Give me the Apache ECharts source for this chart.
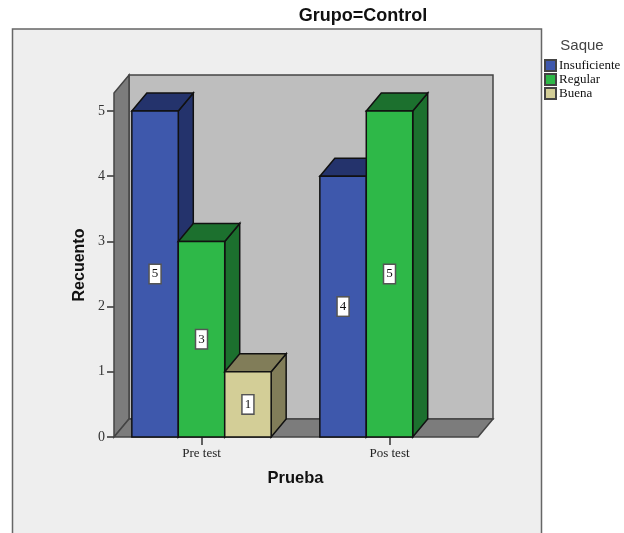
<!DOCTYPE html>
<html>
<head>
<meta charset="utf-8">
<style>html,body{margin:0;padding:0;background:#fff}#chart{width:624px;height:533px}</style>
<script src="https://cdn.jsdelivr.net/npm/echarts@6/dist/echarts.min.js"></script>
</head>
<body>
<div id="chart"></div>
<script>
const categories = ['Pre test', 'Pos test']
const insuficiente = [5, 4]
const regular = [3, 5]
const buena = [1, null]
const yTicks = [0, 1, 2, 3, 4, 5]

// look of the fake 3D box, in pixels
const DEPTH_X = 15
const DEPTH_Y = 18
const FLOOR_INSET = 6.5
const BAR_SHARE = 0.247
const FLOOR_SPAN = 364
const WALL_TOP = 5.276

const serif = '"Liberation Serif"'
const sans = '"Liberation Sans"'

const renderFrame = (params, api) => {
  const band = api.size([1, 0])[0]
  const origin = api.coord([0, 0])
  const top = api.coord([0, WALL_TOP])[1]
  const left = origin[0] - band / 2 + FLOOR_INSET
  const right = left + FLOOR_SPAN
  const bottom = origin[1]
  const stroke = { stroke: '#444444', lineWidth: 1.5 }
  return {
    type: 'group',
    children: [
      {
        type: 'rect',
        shape: { x: left + DEPTH_X, y: top - DEPTH_Y, width: FLOOR_SPAN, height: bottom - top },
        style: { fill: '#bebebe', ...stroke }
      },
      {
        type: 'polygon',
        shape: { points: [[left, bottom], [left + DEPTH_X, bottom - DEPTH_Y], [left + DEPTH_X, top - DEPTH_Y], [left, top]] },
        style: { fill: '#7c7c7c', ...stroke }
      },
      {
        type: 'polygon',
        shape: { points: [[left, bottom], [right, bottom], [right + DEPTH_X, bottom - DEPTH_Y], [left + DEPTH_X, bottom - DEPTH_Y]] },
        style: { fill: '#7c7c7c', ...stroke }
      }
    ]
  }
}

const makeBarRenderer = (slot, front, shade) => (params, api) => {
  const value = api.value(1)
  if (isNaN(value)) return null

  const band = api.size([1, 0])[0]
  const width = band * BAR_SHARE
  const base = api.coord([api.value(0), 0])
  const head = api.coord([api.value(0), value])
  const mid = api.coord([api.value(0), value / 2])
  const x0 = base[0] + (slot - 2.5) * width
  const x1 = x0 + width
  const outline = { stroke: '#111111', lineWidth: 1.5 }

  return {
    type: 'group',
    children: [
      {
        type: 'polygon',
        shape: { points: [[x1, base[1]], [x1 + DEPTH_X, base[1] - DEPTH_Y], [x1 + DEPTH_X, head[1] - DEPTH_Y], [x1, head[1]]] },
        style: { fill: shade, ...outline }
      },
      {
        type: 'polygon',
        shape: { points: [[x0, head[1]], [x0 + DEPTH_X, head[1] - DEPTH_Y], [x1 + DEPTH_X, head[1] - DEPTH_Y], [x1, head[1]]] },
        style: { fill: shade, ...outline }
      },
      {
        type: 'rect',
        shape: { x: x0, y: head[1], width, height: base[1] - head[1] },
        style: { fill: front, ...outline }
      },
      {
        type: 'text',
        x: (x0 + x1) / 2,
        y: mid[1],
        style: {
          text: String(value),
          font: `13px ${serif}`,
          fill: '#111111',
          align: 'center',
          verticalAlign: 'middle',
          backgroundColor: '#ffffff',
          borderColor: '#555555',
          borderWidth: 1.5,
          padding: [3, 2, 2, 2]
        }
      }
    ]
  }
}

const barSeries = (name, values, slot, front, shade) => ({
  type: 'custom',
  name,
  z: 2 + slot,
  data: values.map((v, i) => [i, v]),
  encode: { x: 0, y: 1 },
  itemStyle: { color: front, borderColor: '#444444', borderWidth: 1 },
  renderItem: makeBarRenderer(slot, front, shade)
})

const chart = echarts.init(document.getElementById('chart'))

chart.setOption({
  animation: false,
  backgroundColor: '#ffffff',
  title: [
    {
      text: 'Grupo=Control',
      left: 363,
      top: 7,
      padding: 0,
      textAlign: 'center',
      textStyle: { fontFamily: sans, fontSize: 18, fontWeight: 'bold', color: '#111111' }
    },
    {
      text: 'Saque',
      left: 582,
      top: 38,
      padding: 0,
      textAlign: 'center',
      textStyle: { fontFamily: sans, fontSize: 15, fontWeight: 'normal', color: '#444444' }
    }
  ],
  legend: {
    data: ['Insuficiente', 'Regular', 'Buena'],
    orient: 'vertical',
    left: 544,
    top: 59,
    padding: 0,
    itemWidth: 11,
    itemHeight: 11,
    itemGap: 1,
    icon: 'rect',
    textStyle: { fontFamily: serif, fontSize: 13, lineHeight: 11, color: '#111111', padding: [0, 0, 0, -2] }
  },
  graphic: [
    {
      type: 'rect',
      z: -10,
      shape: { x: 12.5, y: 29, width: 529, height: 520 },
      style: { fill: '#eeeeee', stroke: '#666666', lineWidth: 1.5 }
    }
  ],
  grid: { left: 107.5, top: 93, width: 376, height: 344 },
  xAxis: {
    type: 'category',
    data: categories,
    name: 'Prueba',
    nameLocation: 'middle',
    nameGap: 33,
    nameTextStyle: { fontFamily: sans, fontSize: 16.5, fontWeight: 'bold', color: '#111111' },
    axisLine: { show: false },
    axisTick: { show: true, alignWithLabel: true, length: 8, lineStyle: { color: '#333333', width: 1.5 } },
    axisLabel: { fontFamily: serif, fontSize: 13, color: '#222222', margin: 10 },
    splitLine: { show: false }
  },
  yAxis: {
    type: 'value',
    min: 0,
    max: WALL_TOP,
    offset: -6.5,
    name: 'Recuento',
    nameLocation: 'middle',
    nameGap: 25,
    nameTextStyle: { fontFamily: sans, fontSize: 16, fontWeight: 'bold', color: '#111111' },
    axisLine: { show: false },
    axisTick: { show: true, length: 7, customValues: yTicks, lineStyle: { color: '#333333', width: 1.5 } },
    axisLabel: { fontFamily: serif, fontSize: 14, color: '#333333', margin: 9, customValues: yTicks },
    splitLine: { show: false }
  },
  series: [
    {
      type: 'custom',
      name: 'frame',
      z: 1,
      silent: true,
      data: [[0, 0]],
      encode: { x: 0, y: 1 },
      renderItem: renderFrame
    },
    barSeries('Insuficiente', insuficiente, 1, '#3e58ac', '#24336c'),
    barSeries('Regular', regular, 2, '#2eb848', '#1c702e'),
    barSeries('Buena', buena, 3, '#d3ce97', '#817d59')
  ]
})
</script>
</body>
</html>
